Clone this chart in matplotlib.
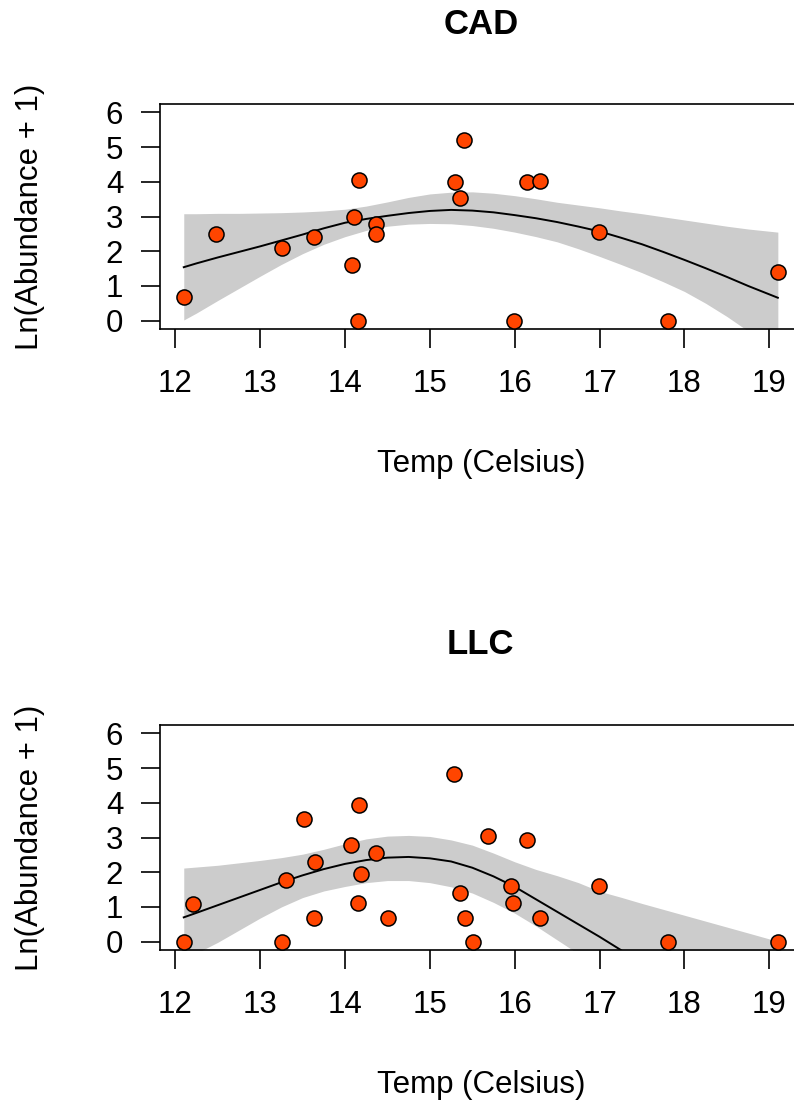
import matplotlib
matplotlib.use("Agg")
import matplotlib.pyplot as plt

plt.rcParams['font.family'] = ['Liberation Sans', 'DejaVu Sans']

# ---- CAD site: observed points ----
cad_temp = [12.10, 12.48, 13.26, 13.64, 14.08, 14.11, 14.17, 14.15, 14.36, 14.37,
            15.30, 15.36, 15.40, 15.99, 16.15, 16.30, 16.99, 17.81, 19.10]
cad_abund = [0.69, 2.49, 2.08, 2.40, 1.61, 3.00, 4.06, 0.00, 2.77, 2.49,
             4.00, 3.54, 5.19, 0.00, 3.99, 4.01, 2.56, 0.00, 1.39]

# temperature grid the fitted curves were read at
fit_grid = [12.1, 12.25, 12.5, 12.75, 13.0, 13.25, 13.5, 13.75, 14.0, 14.25,
            14.5, 14.75, 15.0, 15.25, 15.5, 15.75, 16.0, 16.25, 16.5, 16.75,
            17.0, 17.25, 17.5, 17.75, 18.0, 18.25, 18.5, 18.75, 19.1]

# ---- CAD fitted curve + confidence band ----
cad_fit = [1.54, 1.65, 1.82, 1.98, 2.14, 2.31, 2.48, 2.66, 2.82, 2.93,
           3.02, 3.10, 3.16, 3.19, 3.17, 3.12, 3.04, 2.95, 2.84, 2.71,
           2.57, 2.39, 2.20, 1.98, 1.75, 1.51, 1.26, 1.00, 0.66]
cad_upper = [3.08, 3.08, 3.09, 3.09, 3.10, 3.11, 3.13, 3.16, 3.21, 3.30,
             3.42, 3.55, 3.65, 3.70, 3.71, 3.67, 3.60, 3.51, 3.41, 3.33,
             3.25, 3.16, 3.08, 2.99, 2.90, 2.81, 2.72, 2.64, 2.55]
cad_lower = [0.02, 0.22, 0.58, 0.93, 1.28, 1.62, 1.93, 2.20, 2.42, 2.60,
             2.72, 2.78, 2.80, 2.79, 2.74, 2.66, 2.55, 2.42, 2.27, 2.07,
             1.85, 1.62, 1.38, 1.12, 0.84, 0.50, 0.12, -0.30, -0.90]

# ---- LLC site: observed points ----
llc_temp = [12.10, 12.21, 13.26, 13.31, 13.52, 13.63, 13.65, 14.07, 14.17, 14.15,
            14.19, 14.37, 14.51, 15.29, 15.36, 15.41, 15.51, 15.68, 15.95, 15.98,
            16.15, 16.30, 16.99, 17.81, 19.10]
llc_abund = [0.00, 1.09, 0.00, 1.79, 3.53, 0.69, 2.30, 2.77, 3.93, 1.10,
             1.95, 2.56, 0.69, 4.83, 1.39, 0.69, 0.00, 3.04, 1.61, 1.10,
             2.94, 0.69, 1.61, 0.00, 0.00]

# ---- LLC fitted curve + confidence band ----
llc_fit = [0.70, 0.83, 1.05, 1.27, 1.49, 1.71, 1.91, 2.09, 2.24, 2.35,
           2.42, 2.44, 2.40, 2.31, 2.13, 1.88, 1.58, 1.22, 0.86, 0.50,
           0.14, -0.24, -0.65, -1.10, -1.60, -2.10, -2.60, -3.10, -3.80]
llc_upper = [2.12, 2.15, 2.20, 2.27, 2.34, 2.42, 2.52, 2.66, 2.82, 2.96,
             3.04, 3.06, 3.03, 2.93, 2.78, 2.55, 2.30, 2.08, 1.90, 1.70,
             1.45, 1.28, 1.10, 0.93, 0.76, 0.59, 0.42, 0.25, 0.01]
llc_lower = [-0.60, -0.33, -0.02, 0.33, 0.68, 1.00, 1.27, 1.46, 1.59, 1.70,
             1.76, 1.76, 1.70, 1.58, 1.40, 1.13, 0.82, 0.45, 0.05, -0.35,
             -0.80, -1.30, -1.80, -2.30, -2.80, -3.30, -3.80, -4.20, -5.00]

x_ticks = [12, 13, 14, 15, 16, 17, 18, 19]
y_ticks = [0, 1, 2, 3, 4, 5, 6]

W, H = 794, 1104
fig = plt.figure(figsize=(W / 100, H / 100), dpi=100)

# box geometry in pixels; the right side of the box runs past the image edge
panels = [
    ('CAD', cad_temp, cad_abund, cad_fit, cad_lower, cad_upper, 104),
    ('LLC', llc_temp, llc_abund, llc_fit, llc_lower, llc_upper, 725),
]
left_px, right_px, box_h = 160, 801.6, 225
fs = 22.5

for title, tx, ty, gfit, glo, ghi, top_px in panels:
    ax = fig.add_axes([left_px / W, (H - top_px - box_h) / H,
                       (right_px - left_px) / W, box_h / H])
    ax.fill_between(fit_grid, glo, ghi, color='#CCCCCC', lw=0, zorder=1)
    ax.plot(fit_grid, gfit, color='black', lw=1.4, zorder=2)
    ax.scatter(tx, ty, s=118, color='#FF4500', edgecolor='black', linewidth=1.1, zorder=3)

    ax.set_xlim(11.82, 19.38)
    ax.set_ylim(-0.24, 6.24)
    ax.set_xticks(x_ticks)
    ax.set_yticks(y_ticks)
    ax.tick_params(direction='out', length=13.5, width=1.2, labelsize=fs)
    ax.tick_params(axis='x', pad=15)
    ax.tick_params(axis='y', pad=13)
    for sp in ax.spines.values():
        sp.set_linewidth(1.2)

    ax.set_title(title, fontsize=25, fontweight='bold', y=(329 - 24) / 225, pad=0, va='center')
    ax.set_xlabel('Temp (Celsius)', fontsize=fs, va='center')
    ax.xaxis.set_label_coords(0.5, (329 - 464) / 225)
    ax.set_ylabel('Ln(Abundance + 1)', fontsize=fs, va='center')
    ax.yaxis.set_label_coords((30 - left_px) / (right_px - left_px), 0.5)

fig.savefig('out.png', dpi=100)
